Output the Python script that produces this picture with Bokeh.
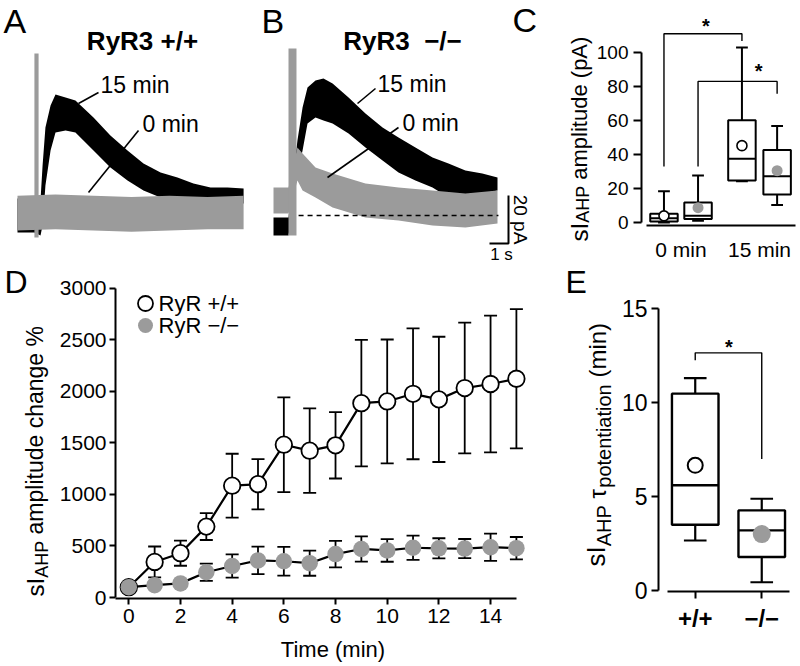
import math
from bokeh.plotting import figure
from bokeh.layouts import row, column
from bokeh.models import Label, Range1d, FixedTicker, Whisker, TeeHead, ColumnDataSource
from bokeh.embed import file_html
from bokeh.resources import INLINE

FONT = "Liberation Sans"
GREY = "#9b9b9b"

# ---------------- data ----------------
# Panel A: RyR3 +/+ example traces (envelope of the noisy trace), time in s, current in pA
a15_t = [0.0, 0.89, 1.21, 1.32, 1.47, 1.74, 2.0, 2.53, 3.05, 4.0, 4.89, 5.79, 6.63, 7.53, 8.42, 9.26, 10.16, 11.05, 11.9]
a15_hi = [5.8, 5.8, 5.0, 19.6, 35.4, 44.6, 49.2, 47.9, 46.7, 39.6, 32.1, 25.8, 20.4, 16.7, 14.6, 12.1, 10.4, 10.4, 10.0]
a15_lo = [-8.3, -8.3, -9.6, -5.4, 11.3, 25.8, 33.3, 34.2, 33.3, 25.8, 18.8, 13.3, 9.2, 6.3, 5.0, 3.8, 2.9, 2.9, 3.8]
a0_t = [0.0, 2.0, 4.0, 6.0, 8.0, 10.0, 11.9]
a0_hi = [7.0, 7.5, 7.0, 6.5, 7.0, 6.5, 7.0]
a0_lo = [-7.5, -7.0, -7.5, -8.0, -7.5, -7.0, -7.0]
a_art_t = [0.89, 1.11]
a_art_pA = [-10.4, 66.3]

# Panel B: RyR3 -/- example traces
b15_t = [0.0, 0.79, 1.26, 1.53, 1.79, 2.21, 2.63, 3.11, 3.95, 4.84, 5.74, 6.58, 7.47, 8.37, 9.21, 10.1, 10.99, 11.79]
b15_hi = [-0.8, -0.8, 31.3, 45.0, 53.3, 56.3, 57.1, 55.0, 49.2, 42.5, 36.7, 32.5, 28.3, 24.2, 21.7, 18.8, 17.5, 15.8]
b15_lo = [-8.3, -8.3, 17.5, 27.1, 38.3, 40.8, 39.6, 38.3, 34.2, 28.3, 22.9, 17.9, 14.6, 11.7, 7.5, 7.5, 9.2, 10.4]
b0_t = [0.0, 0.79, 1.26, 1.53, 2.21, 3.11, 4.84, 6.58, 8.37, 10.1, 11.79]
b0_hi = [11.7, 11.7, 28.3, 25.8, 20.0, 17.5, 13.3, 11.7, 10.4, 9.2, 10.4]
b0_lo = [0.8, 0.8, 14.6, 10.4, 7.5, 3.3, -0.8, -2.1, -4.2, -5.0, -3.3]
b_art_t = [0.79, 1.21]
b_art_pA = [-8.3, 69.6]
b_base_t = [1.32, 11.84]
scale_s = 1.0
scale_pA = 20.0

# Panel C: sIAHP amplitude (pA) box plots
c_labels = ["0 min", "15 min"]
c_pos = [0.783, 1.217, 1.776, 2.224]
c_geno = ["wt", "ko", "wt", "ko"]
c_lo = [0.0, 1.0, 24.3, 10.3]
c_q1 = [0.6, 2.0, 24.7, 16.5]
c_med = [2.5, 4.0, 37.5, 27.2]
c_q3 = [5.2, 11.7, 60.2, 42.7]
c_hi = [18.4, 27.6, 103.0, 56.7]
c_mean = [3.9, 8.7, 45.2, 30.5]
c_sig = [(0, 2, 33.0, 111.0, 106.8), (1, 3, 33.0, 83.0, 75.7)]

# Panel D: time course (%)
d_t = list(range(16))
d_wt = [100, 345, 430, 688, 1085, 1100, 1483, 1425, 1477, 1886, 1903, 1977, 1923, 2033, 2072, 2123]
d_wt_err = [0, 150, 122, 130, 310, 244, 460, 410, 322, 614, 601, 635, 608, 634, 663, 676]
d_ko = [100, 120, 137, 245, 306, 360, 352, 333, 421, 471, 457, 483, 477, 475, 488, 479]
d_ko_err = [0, 0, 0, 83, 113, 134, 139, 122, 129, 123, 110, 117, 98, 93, 132, 108]

# Panel E: tau potentiation (min)
e_labels = ["+/+", "\u2212/\u2212"]
e_pos = [1, 2]
e_lo = [2.66, 0.44]
e_q1 = [3.5, 1.78]
e_med = [5.6, 3.2]
e_q3 = [10.47, 4.26]
e_hi = [11.3, 4.88]
e_mean = [6.66, 3.0]
e_sig = (0, 1, 12.25, 12.64, 7.0)

# ---------------- helpers ----------------
EM = {' ': .278, 's': .5, 'I': .278, 'A': .667, 'H': .722, 'P': .667, 'a': .556, 'm': .833,
      'p': .556, 'l': .222, 'i': .222, 't': .278, 'u': .556, 'd': .556, 'e': .556, '(': .333,
      ')': .333, 'c': .5, 'h': .556, 'n': .556, 'g': .556, '%': .889, '\u03c4': .45, 'o': .556}


def tw(text, size):
    return sum(EM.get(ch, .556) for ch in text) * size


def fs(px):
    return f"{px:.1f}px"


def make_fig(w, h, xr, yr, left=0, right=0, top=0, bottom=0, axes=True):
    kw = dict(width=w, height=h, x_range=Range1d(*xr), y_range=Range1d(*yr),
              output_backend="svg", toolbar_location=None, tools="",
              min_border_left=left, min_border_right=right,
              min_border_top=top, min_border_bottom=bottom)
    if not axes:
        kw.update(x_axis_location=None, y_axis_location=None)
    p = figure(**kw)
    p.frame_align = False
    p.outline_line_color = None
    p.grid.visible = False
    p.background_fill_color = "white"
    p.border_fill_color = "white"
    return p


def label_fig(x0, x1, y0, y1):
    # a text-only panel whose coordinates are the page pixels of the figure
    return make_fig(x1 - x0, y1 - y0, (x0, x1), (y1, y0), axes=False)


def style_axis(ax, size, tick_out, standoff, lw=2.0, bold=False):
    ax.axis_line_width = lw
    ax.axis_line_color = "black"
    ax.major_tick_line_width = lw
    ax.major_tick_line_color = "black"
    ax.major_tick_out = tick_out
    ax.major_tick_in = 0
    ax.minor_tick_line_color = None
    ax.minor_tick_out = 0
    ax.minor_tick_in = 0
    ax.major_label_text_font = FONT
    ax.major_label_text_font_size = fs(size)
    ax.major_label_text_color = "black"
    ax.major_label_standoff = standoff
    if bold:
        ax.major_label_text_font_style = "bold"


def lab(p, x, y, text, size, align="left", angle=0.0, bold=False):
    # (x, y) is the vertical middle of the text line
    p.add_layout(Label(x=x, y=y, text=text, text_font=FONT, text_font_size=fs(size),
                       text_align=align, text_baseline="middle", angle=angle,
                       text_font_style="bold" if bold else "normal", text_color="black"))


def vlabel(p, base_x, start_y, pieces):
    # rotated (bottom-to-top) label made of pieces; base_x is the baseline position
    y = start_y
    for text, size, shift in pieces:
        if text.strip():
            lab(p, base_x + shift - 0.35 * size, y, text, size, angle=math.pi / 2)
        y -= tw(text, size)


def leader(p, xf, yf, x0, y0, x1, y1):
    p.segment(x0=[xf(x0)], y0=[yf(y0)], x1=[xf(x1)], y1=[yf(y1)], line_color="black", line_width=1.6)


TOP_H = 263
BOT_H = 666 - TOP_H

# ---------------- Panel A ----------------
xa = lambda px: (px - 17) / 19.0
ya = lambda py: (212 - py) / 2.4
pA = make_fig(262, TOP_H, (xa(0), xa(262)), (ya(TOP_H), ya(0)), axes=False)
pA.varea(x=a15_t, y1=a15_lo, y2=a15_hi, fill_color="black")
pA.varea(x=a0_t, y1=a0_lo, y2=a0_hi, fill_color=GREY)
pA.quad(left=[a_art_t[0]], right=[a_art_t[1]], bottom=[a_art_pA[0]], top=[a_art_pA[1]],
        fill_color=GREY, line_color=None)
lab(pA, xa(3), ya(20), "A", 34)
lab(pA, xa(142), ya(40), "RyR3 +/+", 26, align="center", bold=True)
lab(pA, xa(100), ya(84), "15 min", 23)
lab(pA, xa(142), ya(123.5), "0 min", 23)
leader(pA, xa, ya, 78, 103, 98, 92)
leader(pA, xa, ya, 88, 192, 138, 130)

# ---------------- Panel B ----------------
xb = lambda px: (px - 273) / 19.0
yb = lambda py: (215 - py) / 2.4
pB = make_fig(278, TOP_H, (xb(262), xb(540)), (yb(TOP_H), yb(0)), axes=False)
pB.varea(x=b15_t, y1=b15_lo, y2=b15_hi, fill_color="black")
pB.varea(x=b0_t, y1=b0_lo, y2=b0_hi, fill_color=GREY)
pB.quad(left=[b_art_t[0]], right=[b_art_t[1]], bottom=[b_art_pA[0]], top=[b_art_pA[1]],
        fill_color=GREY, line_color=None)
pB.line(x=b_base_t, y=[0, 0], line_color="black", line_width=1.5, line_dash="5 4")
sb_x = xb(508)
sb_y = yb(243)
pB.line(x=[sb_x - scale_s, sb_x, sb_x], y=[sb_y, sb_y, sb_y + scale_pA], line_color="black", line_width=2)
lab(pB, xb(261), yb(20), "B", 34)
lab(pB, xb(512), yb(19), "C", 34)
lab(pB, xb(402), yb(40), "RyR3\u00a0\u00a0\u2212/\u2212", 26, align="center", bold=True)
lab(pB, xb(377), yb(83), "15 min", 23)
lab(pB, xb(402), yb(122.5), "0 min", 23)
leader(pB, xb, yb, 357, 103, 375, 88)
leader(pB, xb, yb, 327, 177, 398, 127)
lab(pB, xb(520), yb(219), "20 pA", 19, align="center", angle=-math.pi / 2)
lab(pB, xb(501), yb(253.5), "1 s", 17, align="center")

# ---------------- Panel C ----------------
pClab = label_fig(540, 593, 0, TOP_H)
vlabel(pClab, 587, 241, [("sI", 24, 0), ("AHP", 18, 2), (" ", 22, 0), ("amplitude (pA)", 22, 0)])

xc = lambda px: 1 + (px - 677.5) / 80.5
yc = lambda py: (222 - py) / 1.7
pC = make_fig(800 - 593, TOP_H, (xc(637), xc(800)), (yc(225), yc(0)), left=637 - 593, right=0, top=0,
              bottom=TOP_H - 225)
style_axis(pC.yaxis[0], 19, 8, 5)
pC.yaxis.ticker = FixedTicker(ticks=[0, 20, 40, 60, 80, 100])
pC.yaxis.bounds = (0, 100)
style_axis(pC.xaxis[0], 21, 0, 12)
pC.xaxis.ticker = FixedTicker(ticks=[1, 2])
pC.xaxis.major_label_overrides = {1: c_labels[0], 2: c_labels[1]}
pC.xaxis.major_tick_line_color = None
pC.xaxis.bounds = (xc(642), xc(795))
hw, cw = 0.175, 0.075
pC.segment(x0=c_pos, y0=c_q3, x1=c_pos, y1=c_hi, line_color="black", line_width=2)
pC.segment(x0=c_pos, y0=c_q1, x1=c_pos, y1=c_lo, line_color="black", line_width=2)
pC.segment(x0=[x - cw for x in c_pos], y0=c_hi, x1=[x + cw for x in c_pos], y1=c_hi, line_color="black", line_width=2)
pC.segment(x0=[x - cw for x in c_pos], y0=c_lo, x1=[x + cw for x in c_pos], y1=c_lo, line_color="black", line_width=2)
pC.quad(left=[x - hw for x in c_pos], right=[x + hw for x in c_pos], bottom=c_q1, top=c_q3,
        fill_color="white", line_color="black", line_width=2)
pC.segment(x0=[x - hw for x in c_pos], y0=c_med, x1=[x + hw for x in c_pos], y1=c_med, line_color="black", line_width=2)
wt_i = [i for i, g in enumerate(c_geno) if g == "wt"]
ko_i = [i for i, g in enumerate(c_geno) if g == "ko"]
pC.scatter(x=[c_pos[i] for i in wt_i], y=[c_mean[i] for i in wt_i], size=10, fill_color="white",
           line_color="black", line_width=1.6)
pC.scatter(x=[c_pos[i] for i in ko_i], y=[c_mean[i] for i in ko_i], size=11, fill_color=GREY, line_color=None)
for i, j, ybot, ytop, yend in c_sig:
    pC.line(x=[c_pos[i], c_pos[i], c_pos[j], c_pos[j]], y=[ybot, ytop, ytop, yend], line_color="black", line_width=1.4)
lab(pC, xc(703), yc(25.6), "*", 20, align="center", bold=True)
lab(pC, xc(757), yc(70.6), "*", 20, align="center", bold=True)

# ---------------- Panel D ----------------
pDlab = label_fig(0, 52, TOP_H, 666)
lab(pDlab, 4, 281, "D", 32)
vlabel(pDlab, 43, 596, [("sI", 24, 0), ("AHP", 18, 5), (" ", 23, 0), ("amplitude change %", 23, 0)])

D_BOT = 634
xd = lambda px: (px - 128.3) / 25.84
yd = lambda py: (597 - py) / 0.10303
pD = make_fig(540 - 52, D_BOT - TOP_H, (xd(115), xd(530)), (yd(598), yd(270)), left=115 - 52, right=540 - 530,
              top=270 - TOP_H, bottom=D_BOT - 598)
style_axis(pD.yaxis[0], 21, 6, 3)
pD.yaxis.ticker = FixedTicker(ticks=[0, 500, 1000, 1500, 2000, 2500, 3000])
pD.yaxis.bounds = (0, 3000)
style_axis(pD.xaxis[0], 21, 6, 4)
pD.xaxis.ticker = FixedTicker(ticks=[0, 2, 4, 6, 8, 10, 12, 14])
pD.xaxis.bounds = (xd(115), 15)
src_wt = ColumnDataSource(dict(t=d_t, v=d_wt, lo=[v - e for v, e in zip(d_wt, d_wt_err)], hi=[v + e for v, e in zip(d_wt, d_wt_err)]))
src_ko = ColumnDataSource(dict(t=d_t, v=d_ko, lo=[v - e for v, e in zip(d_ko, d_ko_err)], hi=[v + e for v, e in zip(d_ko, d_ko_err)]))
for src in (src_wt, src_ko):
    pD.add_layout(Whisker(source=src, base="t", upper="hi", lower="lo", line_color="black", line_width=1.8,
                          upper_head=TeeHead(size=13, line_width=1.8, line_color="black"),
                          lower_head=TeeHead(size=13, line_width=1.8, line_color="black"),
                          level="underlay"))
pD.line(x="t", y="v", source=src_wt, line_color="black", line_width=2.2)
pD.scatter(x="t", y="v", source=src_wt, size=16.5, fill_color="white", line_color="black", line_width=1.8)
pD.line(x="t", y="v", source=src_ko, line_color="black", line_width=2.2)
pD.scatter(x="t", y="v", source=src_ko, size=16.5, fill_color=GREY, line_color=None)
pD.scatter(x=[xd(145)], y=[yd(303)], size=15, fill_color="white", line_color="black", line_width=1.8)
pD.scatter(x=[xd(145)], y=[yd(325)], size=15, fill_color=GREY, line_color=None)
lab(pD, xd(158), yd(303), "RyR +/+", 22)
lab(pD, xd(158), yd(325), "RyR \u2212/\u2212", 22)

pDtime = label_fig(52, 540, D_BOT, 666)
lab(pDtime, 332.5, 648.5, "Time (min)", 22, align="center")

# ---------------- Panel E ----------------
pElab = label_fig(540, 618, TOP_H, 666)
lab(pElab, 565, 281, "E", 32)
vlabel(pElab, 605, 566, [("sI", 26, 0), ("AHP", 20, 5), (" ", 24, 0), ("\u03c4", 24, 0),
                         ("potentiation", 20, 5), (" ", 24, 0), ("(min)", 24, 0)])

xe = lambda px: 1 + (px - 694) / 67.0
ye = lambda py: (590 - py) / 18.8
pE = make_fig(800 - 618, BOT_H, (xe(657), xe(795)), (ye(591), ye(290)), left=657 - 618, right=5,
              top=290 - TOP_H, bottom=666 - 591)
style_axis(pE.yaxis[0], 23, 7, 4)
pE.yaxis.ticker = FixedTicker(ticks=[0, 5, 10, 15])
pE.yaxis.bounds = (0, 15)
style_axis(pE.xaxis[0], 24, 7, 6, bold=True)
pE.xaxis.ticker = FixedTicker(ticks=e_pos)
pE.xaxis.major_label_overrides = {e_pos[0]: e_labels[0], e_pos[1]: e_labels[1]}
pE.xaxis.bounds = (xe(666), xe(789))
ehw, ecw = 0.35, 0.17
pE.segment(x0=e_pos, y0=e_q3, x1=e_pos, y1=e_hi, line_color="black", line_width=2.2)
pE.segment(x0=e_pos, y0=e_q1, x1=e_pos, y1=e_lo, line_color="black", line_width=2.2)
pE.segment(x0=[x - ecw for x in e_pos], y0=e_hi, x1=[x + ecw for x in e_pos], y1=e_hi, line_color="black", line_width=2.2)
pE.segment(x0=[x - ecw for x in e_pos], y0=e_lo, x1=[x + ecw for x in e_pos], y1=e_lo, line_color="black", line_width=2.2)
pE.quad(left=[x - ehw for x in e_pos], right=[x + ehw for x in e_pos], bottom=e_q1, top=e_q3,
        fill_color="white", line_color="black", line_width=2.4)
pE.segment(x0=[x - ehw for x in e_pos], y0=e_med, x1=[x + ehw for x in e_pos], y1=e_med, line_color="black", line_width=2.4)
pE.scatter(x=[e_pos[0]], y=[e_mean[0]], size=15, fill_color="white", line_color="black", line_width=2)
pE.scatter(x=[e_pos[1]], y=[e_mean[1]], size=18, fill_color=GREY, line_color=None)
i, j, ybot, ytop, yend = e_sig
pE.line(x=[e_pos[i], e_pos[i], e_pos[j], e_pos[j]], y=[ybot, ytop, ytop, yend], line_color="black", line_width=1.4)
lab(pE, xe(728), ye(346.6), "*", 20, align="center", bold=True)

layout = column(row(pA, pB, pClab, pC), row(pDlab, column(pD, pDtime), pElab, pE))
open("out.html", "w").write(file_html(layout, INLINE, title="RyR3 sIAHP"))
